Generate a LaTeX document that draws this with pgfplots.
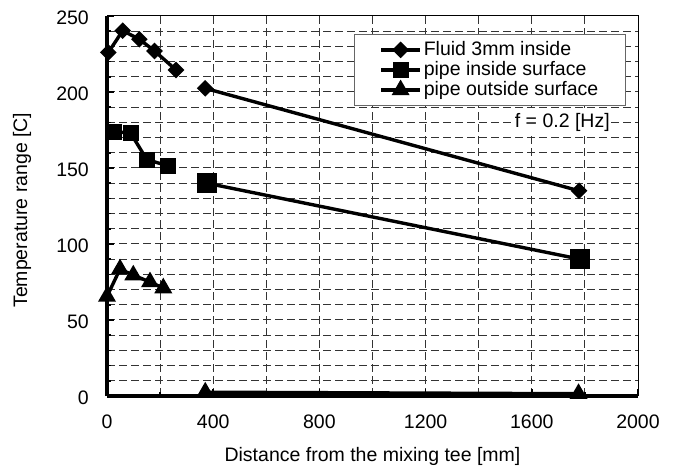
\documentclass[border=0pt]{standalone}
\usepackage{pgfplots}
\pgfplotsset{compat=1.18}
\usepackage{fontspec}
\setmainfont{Liberation Sans}
\pgfplotsset{
  mylegend/.style={legend image code/.code={%
    \draw[##1, mark repeat=2, mark phase=2] plot coordinates {(0bp,0bp) (19.5bp,0bp) (39bp,0bp)};}}
}
\begin{document}
\fontsize{19.5bp}{23bp}\selectfont
\begin{tikzpicture}
\useasboundingbox (0,0) rectangle (676bp,468bp);
\begin{axis}[
  at={(107bp,72bp)}, anchor=south west,
  scale only axis, width=531bp, height=380bp,
  xmin=0, xmax=2000, ymin=0, ymax=250,
  xtick={0,400,...,2000}, minor xtick={200,600,...,1800},
  ytick={0,50,...,250}, minor ytick={10,20,30,40,60,70,80,90,110,120,130,140,160,170,180,190,210,220,230,240},
  grid=both,
  major grid style={black!80, line width=1bp, dash pattern=on 8bp off 4bp},
  minor grid style={black!80, line width=1bp, dash pattern=on 8bp off 4bp},
  axis lines=left,
  axis line style={-, line width=3.3bp, black},
  tick align=inside,
  major tick length=7bp, minor tick length=4bp,
  tick style={black, line width=1.5bp},
  /pgf/number format/assume math mode=true,
  /pgf/number format/1000 sep={},
  font=\fontsize{19.5bp}{23bp}\selectfont,
  yticklabel style={inner sep=0pt, anchor=east, xshift=-18bp, yshift=-1.5bp},
  xticklabel style={inner sep=0pt, anchor=north, yshift=-19bp},
  xlabel={Distance from the mixing tee [mm]},
  ylabel={Temperature range [C]},
  xlabel style={at={(axis description cs:0.5,-0.158)}, anchor=center, inner sep=0pt},
  ylabel style={at={(axis description cs:-0.160,0.489)}, anchor=center, inner sep=0pt},
  unbounded coords=jump,
  legend style={at={(axis description cs:0.465,0.953)}, anchor=north west,
    draw=black!60, line width=1bp, fill=white, inner xsep=25bp, inner ysep=5bp,
    font=\fontsize{19.5bp}{21bp}\selectfont, row sep=-1bp},
  legend cell align=left,
  mylegend,
  after end axis/.code={
    \draw[black, line width=1bp] (rel axis cs:0,1) -- (rel axis cs:1,1) -- (rel axis cs:1,0);
  },
]
% Fluid 3mm inside
\addplot[black, line width=3.4bp, mark=square*, mark size=4.2bp, mark options={rotate=45, solid}] coordinates {
  (5,226) (59,240.3) (122,234.7) (179,227) (260,214.5) (nan,nan) (370,202.4) (1778,135)};
% pipe inside surface
\addplot[black, line width=3.4bp, mark=square*, mark size=6.3bp, mark options={solid}] coordinates {
  (26,174) (89,173) (150,155.5) (229,151.5)};
% pipe outside surface
\addplot[black, line width=3.4bp, mark=triangle*, mark size=7bp, mark options={solid}] coordinates {
  (0,65.5) (49,83.5) (99,79.5) (162,75) (212,71) (nan,nan) (370,2.5) (1776,1.5)};
\addplot[black, line width=3.4bp, mark=square*, mark size=8.5bp, mark options={solid}, forget plot] coordinates {
  (376,140) (1782,90)};
\legend{}
\addlegendimage{black, line width=3.4bp, mark=square*, mark size=2.6bp, mark options={rotate=45}}
\addlegendentry{Fluid 3mm inside}
\addlegendimage{black, line width=3.4bp, mark=square*, mark size=3.6bp}
\addlegendentry{pipe inside surface}
\addlegendimage{black, line width=3.4bp, mark=triangle*, mark size=4.2bp}
\addlegendentry{pipe outside surface}
\node[fill=white, inner sep=1bp, anchor=center] at (axis cs:1715,180) {f = 0.2 [Hz]};
\end{axis}
\end{tikzpicture}
\end{document}
